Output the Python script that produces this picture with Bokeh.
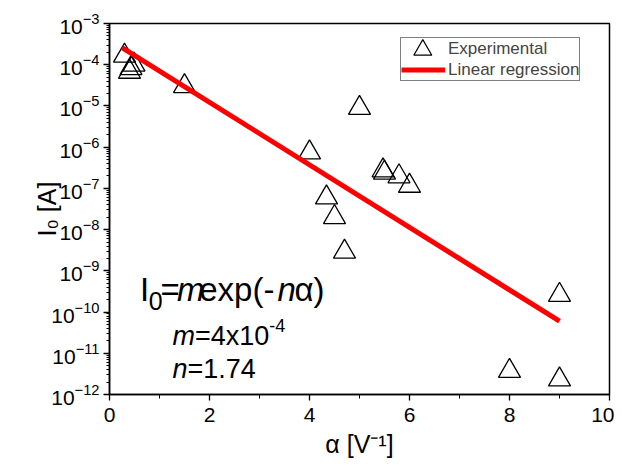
import math
from bokeh.plotting import figure
from bokeh.models import Label, Legend, LegendItem, FixedTicker, LogTickFormatter
from bokeh.embed import file_html
from bokeh.resources import INLINE

# ---------------- data ----------------
alpha_exp = [0.30, 0.49, 0.43, 0.40, 1.50, 4.00, 4.34, 4.50, 4.70, 5.00,
             5.47, 5.50, 5.79, 6.00, 8.00, 9.00, 9.00]
i0_exp = [1.65e-4, 1.0e-4, 8.2e-5, 6.7e-5, 3.0e-5, 7.4e-7, 6.0e-8, 2.0e-8,
          2.9e-9, 8.9e-6, 2.7e-7, 2.4e-7, 1.95e-7, 1.15e-7, 3.7e-12,
          2.6e-10, 2.3e-12]
alpha_fit = [0.25, 9.0]
i0_fit = [2.6e-4, 6.0e-11]

x_ticks = [0, 2, 4, 6, 8, 10]
x_minor = [1, 3, 5, 7, 9]
y_exponents = [-12, -11, -10, -9, -8, -7, -6, -5, -4, -3]

X_RANGE = (0, 10)
Y_RANGE = (1e-12, 1e-3)

# ---------------- layout constants (page px) ----------------
FONT = "Liberation Sans"
FL, FT, FW, FH = 109, 23, 500, 371   # frame left/top/width/height on the page
W, H = 614, 466

p = figure(width=W, height=H, x_range=X_RANGE, y_range=Y_RANGE,
           y_axis_type="log", output_backend="svg", toolbar_location=None,
           title=None, min_border_left=FL, min_border_top=FT,
           min_border_right=W - FL - FW, min_border_bottom=H - FT - FH)
p.background_fill_color = "white"
p.border_fill_color = "white"
p.outline_line_color = "black"
p.outline_line_width = 1.5
p.xgrid.visible = False
p.ygrid.visible = False

y_major = [10.0 ** e for e in y_exponents]
y_minor = [m * 10.0 ** e for e in y_exponents[:-1] for m in range(2, 10)]
p.xaxis.ticker = FixedTicker(ticks=x_ticks, minor_ticks=x_minor)
p.yaxis.ticker = FixedTicker(ticks=y_major, minor_ticks=y_minor)
p.yaxis.formatter = LogTickFormatter()

for ax in (p.xaxis, p.yaxis):
    ax.axis_line_color = "black"
    ax.axis_line_width = 1.5
    ax.major_tick_line_color = "black"
    ax.major_tick_line_width = 1.3
    ax.minor_tick_line_color = "black"
    ax.minor_tick_line_width = 1.0
    ax.major_tick_in = 0
    ax.minor_tick_in = 0
    ax.major_tick_out = 6
    ax.major_label_text_font = FONT
    ax.major_label_text_font_size = "21px"
    ax.major_label_text_color = "black"
    ax.major_label_standoff = 4
    ax.axis_label_text_font = FONT
    ax.axis_label_text_font_size = "25px"
    ax.axis_label_text_font_style = "normal"
    ax.axis_label_text_color = "black"
p.xaxis.minor_tick_out = 4
p.yaxis.minor_tick_out = 3
p.xaxis.major_label_standoff = 7

p.xaxis.axis_label = "\u03b1 [V\u207b\u00b9]"
p.yaxis.axis_label = "I\u2080 [A]"
p.xaxis.axis_label_standoff = 5
p.yaxis.axis_label_standoff = -13

# ---------------- marks ----------------
p.scatter(alpha_exp, i0_exp, marker="triangle", size=22, fill_color=None,
          line_color="black", line_width=1.3)
fit_r = p.line(alpha_fit, i0_fit, line_color="#ff0000", line_width=5)

# legend (triangle symbol drawn at its full size separately)
dummy = p.scatter(x=[], y=[], marker="triangle", size=1, line_alpha=0,
                  fill_alpha=0)
LEG_L, LEG_T, LEG_B = 400, 39, 81
legend = Legend(items=[LegendItem(label="Experimental", renderers=[dummy]),
                       LegendItem(label="Linear regression", renderers=[fit_r])],
                location=(LEG_L - FL, FT + FH - LEG_B), padding=0, margin=0,
                spacing=0, glyph_width=44, glyph_height=21, label_height=21,
                label_standoff=3, label_text_font=FONT,
                label_text_font_size="17px", border_line_color="black",
                border_line_width=1, background_fill_alpha=0)
p.add_layout(legend)

def to_data(px, py):
    x = X_RANGE[0] + (px - FL) / FW * (X_RANGE[1] - X_RANGE[0])
    lo, hi = math.log10(Y_RANGE[0]), math.log10(Y_RANGE[1])
    y = 10 ** (hi - (py - FT) / FH * (hi - lo))
    return x, y

sx, sy = to_data(422.3, 49.5)
p.scatter([sx], [sy], marker="triangle", size=18, fill_color=None,
          line_color="black", line_width=1.2)

# ---------------- texts ----------------
def lab(text, px, py, size, style="normal", angle=0.0):
    p.add_layout(Label(x=px - FL, y=FT + FH - py, x_units="screen",
                       y_units="screen", text=text, text_font=FONT,
                       text_font_size=f"{size}px", text_font_style=style,
                       text_color="black", text_align="left",
                       text_baseline="alphabetic", angle=angle))

# equation
lab("I", 139.6, 289.3, 33)
lab("0", 148.3, 300.0, 25)
lab("=", 160.1, 289.3, 33)
lab("m", 176.5, 289.3, 33, "italic")
lab("exp(-", 198.7, 289.3, 33)
lab("n", 277.0, 289.3, 33, "italic")
lab("\u03b1)", 294.0, 289.3, 33)

lab("m", 172.0, 335.0, 27, "italic")
lab("=4x10", 194.5, 335.0, 27)
lab("-4", 268.8, 325.0, 18)

lab("n", 172.0, 368.3, 27, "italic")
lab("=1.74", 187.0, 368.3, 27)

open("out.html", "w").write(file_html(p, INLINE))
